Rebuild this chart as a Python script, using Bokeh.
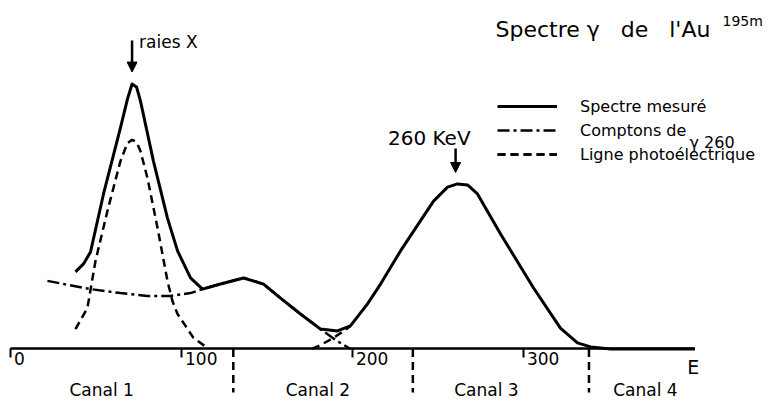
from bokeh.plotting import figure
from bokeh.models import (Range1d, LinearAxis, FixedTicker, Label, Arrow, NormalHead,
                          Legend, LegendItem)
from bokeh.core.properties import value
from bokeh.embed import file_html
from bokeh.resources import INLINE

# ---------------- data (energy in keV, counts in arbitrary units) ----------------
energy_spectrum = [37.7, 42.4, 46.5, 54.1, 64.0, 68.1, 70.8, 73.4, 75.7, 83.3, 91.5, 97.4,
                   105.0, 112.0, 122.5, 136.0, 147.7, 157.6, 169.3, 181.0, 190.9, 198.5,
                   208.5, 216.1, 227.8, 247.1, 255.3, 261.1, 267.0, 272.8, 286.3, 305.6,
                   321.3, 331.3, 339.0, 350.6, 400.0]
counts_spectrum = [29.1, 32.1, 36.6, 58.5, 83.4, 94.3, 100.0, 98.9, 93.6, 70.9, 49.4, 37.0,
                   26.8, 22.6, 24.5, 26.8, 24.5, 19.2, 13.2, 7.5, 6.8, 8.7,
                   17.0, 24.5, 37.0, 55.8, 61.1, 62.3, 61.9, 58.5, 43.4, 23.0,
                   7.9, 2.3, 0.8, 0.0, 0.0]

energy_compton = [21.3, 46.5, 64.0, 79.8, 93.3, 105.0, 112.0, 122.5, 136.0, 147.7, 157.6,
                  169.3, 181.0, 189.8, 198.5]
counts_compton = [25.7, 22.6, 21.1, 20.0, 20.0, 21.1, 22.6, 24.5, 26.8, 24.5, 19.2,
                  13.2, 7.5, 3.4, 0.0]

energy_photo_x = [37.7, 44.7, 49.4, 56.4, 64.0, 68.1, 70.8, 73.4, 75.7, 79.8, 85.7, 91.5,
                  94.4, 97.4, 106.7, 114.9]
counts_photo_x = [7.5, 15.5, 33.2, 52.1, 70.9, 77.7, 78.9, 78.1, 74.7, 64.5, 45.7, 25.7,
                  18.1, 13.2, 4.2, 0.4]

energy_photo_260 = [176.1, 182.2, 188.6, 195.6, 198.5]
counts_photo_260 = [0.0, 1.9, 4.2, 7.2, 8.7]

tick_values = [0, 100, 200, 300]
tick_labels = ["0", "100", "200", "300"]

canal_bounds = [130, 235, 338]
canal_names = ["Canal 1", "Canal 2", "Canal 3", "Canal 4"]
canal_label_energy = [53, 179.5, 278, 371]

xray_peak_energy = 70.8
gamma_peak_energy = 260

FONT = "DejaVu Sans"

# ---------------- figure ----------------
p = figure(width=774, height=403, output_backend="svg", toolbar_location=None,
           x_range=Range1d(-6.14, 446.5), y_range=Range1d(-20.57, 131.5),
           x_axis_type=None, y_axis_type=None, min_border=0)
p.outline_line_color = None
p.background_fill_color = "white"
p.border_fill_color = "white"

xaxis = LinearAxis(fixed_location=0, ticker=FixedTicker(ticks=tick_values), bounds=(0, 400),
                   axis_line_width=2.5, axis_line_color="black",
                   major_tick_out=9, major_tick_in=0, major_tick_line_width=2,
                   major_tick_line_color="black",
                   minor_tick_out=0, minor_tick_in=0, major_label_text_color=None)
p.add_layout(xaxis, "below")

# curves
r_comp = p.line(energy_compton, counts_compton, line_color="black", line_width=2.5,
                line_dash="12 4 3 4")
r_px = p.line(energy_photo_x, counts_photo_x, line_color="black", line_width=2.5,
              line_dash="8 5")
r_p260 = p.line(energy_photo_260, counts_photo_260, line_color="black", line_width=2.5,
                line_dash="8 5")
r_spec = p.line(energy_spectrum, counts_spectrum, line_color="black", line_width=3,
                line_join="round")

# channel separators
p.segment(x0=canal_bounds, y0=[0] * len(canal_bounds), x1=canal_bounds,
          y1=[-16.4] * len(canal_bounds), line_color="black", line_width=2.5,
          line_dash="8 5")

# tick labels
p.text(x=tick_values, y=[0] * len(tick_values), text=tick_labels,
       x_offset=3, y_offset=9.5, text_align="left", text_baseline="alphabetic",
       text_font=value(FONT), text_font_size="17px", text_color="black")

# channel names
p.text(x=canal_label_energy, y=[0] * len(canal_label_energy), text=canal_names,
       y_offset=41, text_align="center", text_baseline="alphabetic",
       text_font=value(FONT), text_font_size="17px", text_color="black")

# axis name
p.text(x=[399], y=[0], text=["E"], y_offset=18, text_align="center",
       text_baseline="alphabetic", text_font=value(FONT), text_font_size="19px",
       text_color="black")

# arrows and annotations
p.add_layout(Arrow(end=NormalHead(size=10, fill_color="black", line_color="black"),
                   x_start=xray_peak_energy, y_start=116.4,
                   x_end=xray_peak_energy, y_end=104.5,
                   line_color="black", line_width=2.5))
p.text(x=[xray_peak_energy], y=[116.4], text=["raies X"], x_offset=7, y_offset=1,
       text_align="left", text_baseline="alphabetic", text_font=value(FONT),
       text_font_size="17px", text_color="black")

p.add_layout(Arrow(end=NormalHead(size=10, fill_color="black", line_color="black"),
                   x_start=gamma_peak_energy, y_start=75.7,
                   x_end=gamma_peak_energy, y_end=66.6,
                   line_color="black", line_width=2.5))
p.text(x=[gamma_peak_energy], y=[75.7], text=["260 KeV"], x_offset=15, y_offset=-10,
       text_align="right", text_baseline="alphabetic", text_font=value(FONT),
       text_font_size="20px", text_color="black")

# legend
legend = Legend(items=[LegendItem(label="Spectre mesuré", renderers=[r_spec]),
                       LegendItem(label="Comptons de", renderers=[r_comp]),
                       LegendItem(label="Ligne photoélectrique", renderers=[r_px, r_p260])],
                location=(497, 239), orientation="vertical", glyph_width=60,
                glyph_height=20, label_height=20, label_standoff=23, spacing=4,
                padding=0, margin=0, border_line_color=None, background_fill_alpha=0,
                label_text_font=FONT, label_text_font_size="16px",
                label_text_color="black")
p.add_layout(legend)
p.add_layout(Label(x=689, y=261, x_units="screen", y_units="screen", text="γ 260",
                   text_baseline="alphabetic", text_font=FONT, text_font_size="16px",
                   text_color="black"))

# title
p.add_layout(Label(x=495, y=374, x_units="screen", y_units="screen",
                   text="Spectre γ\u00a0\u00a0 de\u00a0\u00a0 l'Au", text_baseline="alphabetic",
                   text_font=FONT, text_font_size="22px", text_color="black"))
p.add_layout(Label(x=722, y=383, x_units="screen", y_units="screen", text="195m",
                   text_baseline="alphabetic", text_font=FONT, text_font_size="14px",
                   text_color="black"))

open("out.html", "w").write(file_html(p, INLINE))
